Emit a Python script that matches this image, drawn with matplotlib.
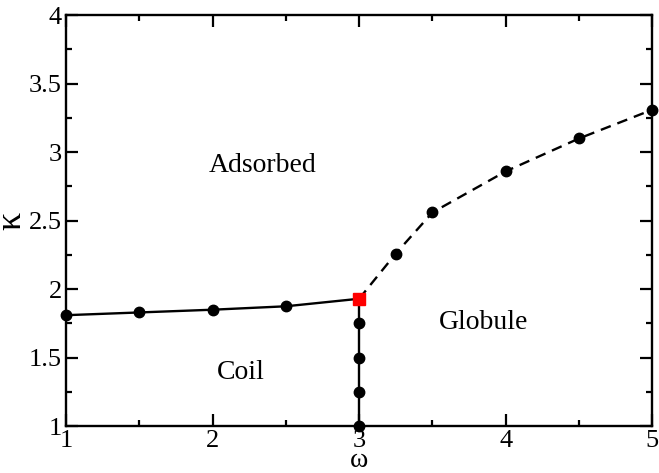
import matplotlib

matplotlib.use("Agg")
import matplotlib.pyplot as plt
from matplotlib.ticker import MultipleLocator, FormatStrFormatter

plt.rcParams["font.family"] = ["Liberation Serif", "DejaVu Serif"]

# coil-adsorbed boundary (solid)
coil_ads_w = [1.0, 1.5, 2.0, 2.5, 3.0]
coil_ads_k = [1.81, 1.83, 1.85, 1.875, 1.93]

# coil-globule boundary (vertical, solid)
coil_glob_w = [3.0, 3.0, 3.0, 3.0, 3.0]
coil_glob_k = [1.0, 1.25, 1.5, 1.75, 1.93]

# globule-adsorbed boundary (dashed)
glob_ads_w = [3.0, 3.25, 3.5, 4.0, 4.5, 5.0]
glob_ads_k = [1.93, 2.26, 2.56, 2.86, 3.10, 3.31]

# multicritical point
triple_w = [3.0]
triple_k = [1.93]

fig = plt.figure(figsize=(6.59, 4.73), dpi=100)
ax = fig.add_axes([0.100, 0.099, 0.890, 0.869])

ax.plot(coil_ads_w, coil_ads_k, "k-", lw=1.7, marker="o", ms=7.5, clip_on=False)
ax.plot(coil_glob_w, coil_glob_k, "k-", lw=1.7, marker="o", ms=7.5, clip_on=False)
ax.plot(glob_ads_w[1:], glob_ads_k[1:], "ko", ms=7.5, clip_on=False)
ax.plot(glob_ads_w, glob_ads_k, "k", lw=1.7, dashes=(4.5, 3), clip_on=False)
ax.plot(triple_w, triple_k, "s", color="#ff0000", ms=8.5, zorder=5, clip_on=False)

ax.text(2.34, 2.9, "Adsorbed", fontsize=20, ha="center", va="center")
ax.text(3.85, 1.76, "Globule", fontsize=20, ha="center", va="center")
ax.text(2.19, 1.39, "Coil", fontsize=20, ha="center", va="center")

ax.set_xlim(1, 5)
ax.set_ylim(1, 4)
ax.xaxis.set_major_locator(MultipleLocator(1))
ax.xaxis.set_minor_locator(MultipleLocator(0.5))
ax.yaxis.set_major_locator(MultipleLocator(0.5))
ax.yaxis.set_minor_locator(MultipleLocator(0.25))
ax.xaxis.set_major_formatter(FormatStrFormatter("%g"))
ax.yaxis.set_major_formatter(FormatStrFormatter("%g"))
ax.tick_params(which="both", direction="in", width=1.6, labelsize=19,
               top=True, right=True)
ax.tick_params(which="major", length=8.5, pad=3)
ax.tick_params(which="minor", length=4.5)
for s in ax.spines.values():
    s.set_linewidth(1.7)

ax.set_xlabel("ω", fontsize=20, labelpad=-3)
ax.set_ylabel("κ", fontsize=26, labelpad=0)

fig.savefig("out.png", dpi=100)
